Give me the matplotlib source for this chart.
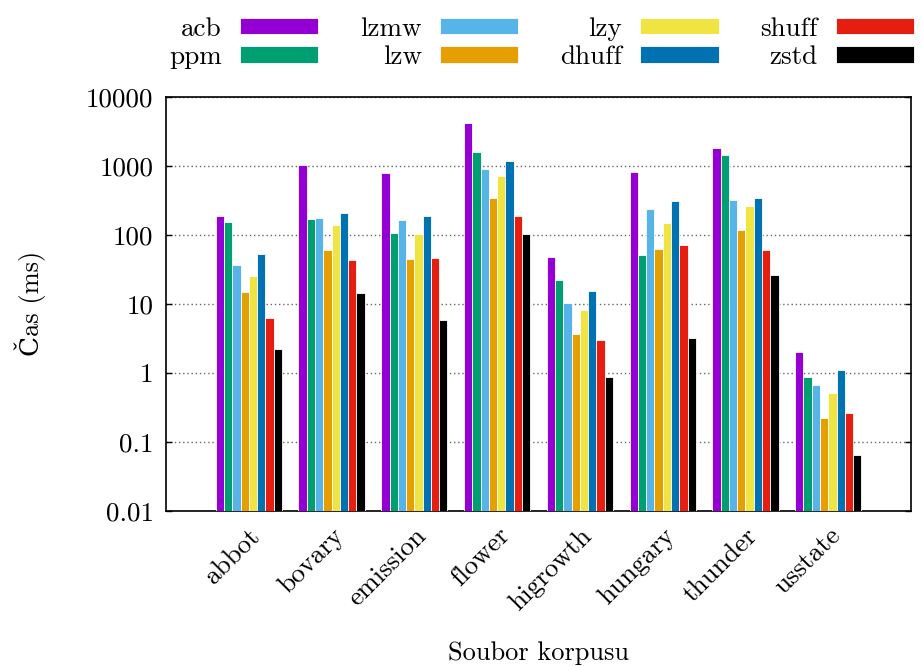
import numpy as np
import matplotlib
matplotlib.use("Agg")
import matplotlib.pyplot as plt
from matplotlib.ticker import FixedLocator, FixedFormatter, NullLocator

plt.rcParams['font.family'] = ['cmr10', 'DejaVu Serif']
plt.rcParams['mathtext.fontset'] = 'cm'
plt.rcParams['axes.formatter.use_mathtext'] = True

files = ["abbot", "bovary", "emission", "flower", "higrowth", "hungary", "thunder", "usstate"]
methods = ["acb", "ppm", "lzmw", "lzw", "lzy", "dhuff", "shuff", "zstd"]
colors = ["#9400d3", "#009e73", "#56b4e9", "#e69f00", "#f0e442", "#0072b2", "#e51e10", "#000000"]

acb   = [190, 1020, 800, 4230, 48, 827, 1820, 2.03]
ppm   = [152, 172, 108, 1610, 22, 51.4, 1423, 0.88]
lzmw  = [36.8, 176, 166, 914, 10.4, 235, 318, 0.66]
lzw   = [15.0, 60.7, 45.4, 348, 3.63, 62.6, 120, 0.22]
lzy   = [25.8, 138, 104, 724, 8.3, 149, 259, 0.52]
dhuff = [53.7, 210, 190, 1166, 15.2, 314, 339, 1.12]
shuff = [6.34, 43.5, 46, 190, 3.04, 72.6, 61.5, 0.263]
zstd  = [2.2, 14.6, 5.9, 103, 0.86, 3.25, 25.9, 0.0636]

series = [acb, ppm, lzmw, lzw, lzy, dhuff, shuff, zstd]

yticks = [0.01, 0.1, 1, 10, 100, 1000, 10000]
ytick_labels = ["0.01", "0.1", "1", "10", "100", "1000", "10000"]

FS = 19.5

fig = plt.figure(figsize=(9.22, 6.66), dpi=100)
ax = fig.add_axes([166/922, 1-511/666, (911-166)/922, (511-97)/666])

x = np.arange(1, len(files) + 1)
w = 0.1
for i, (name, vals, c) in enumerate(zip(methods, series, colors)):
    ax.bar(x + (i - 3.5) * w, vals, width=w, bottom=0.001, color=c, edgecolor='white',
           linewidth=0.6, label=name, zorder=3)

ax.set_yscale('log')
ax.set_ylim(0.01, 10000)
ax.set_xlim(0, 9)
ax.yaxis.set_major_locator(FixedLocator(yticks))
ax.yaxis.set_major_formatter(FixedFormatter(ytick_labels))
ax.yaxis.set_minor_locator(NullLocator())
ax.tick_params(axis='y', direction='in', length=4, width=1, right=True, labelsize=FS, pad=9)
ax.set_xticks(x)
ax.set_xticklabels(files, rotation=45, ha='right', rotation_mode='anchor', fontsize=FS)
ax.tick_params(axis='x', length=0, pad=9)
ax.grid(axis='y', which='major', linestyle=(0, (1, 2)), color='#666666', linewidth=1, zorder=0)
for s in ax.spines.values():
    s.set_linewidth(1.2)

fig.text(30/922, 1-303/666, "Čas (ms)", rotation=90, ha='center', va='center', fontsize=19)
fig.text(538/922, 1-653/666, "Soubor korpusu", ha='center', va='center', fontsize=19)

leg = fig.legend(loc='upper left', bbox_to_anchor=(169/922, 1-17/666), ncol=4, frameon=False,
                 markerfirst=False, fontsize=FS, handlelength=2.9, handleheight=0.56,
                 handletextpad=0.67, columnspacing=1.54, labelspacing=0.17,
                 borderpad=0, borderaxespad=0)

fig.savefig("out.png", dpi=100)
